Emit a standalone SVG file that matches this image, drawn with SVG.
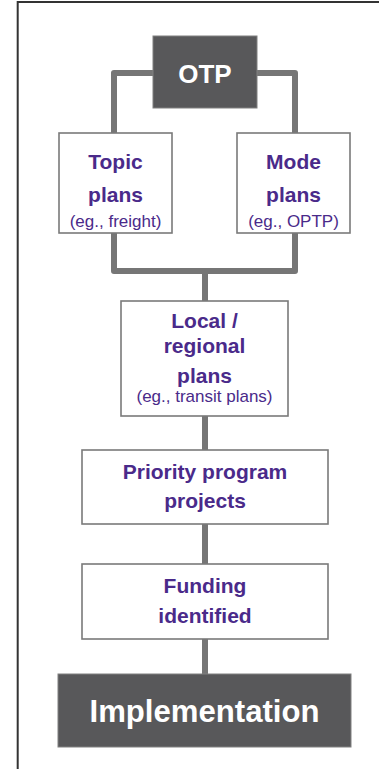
<svg xmlns="http://www.w3.org/2000/svg" width="379" height="769" viewBox="0 0 379 769">
<style>
.frame{fill:none;stroke:#333;stroke-width:2}
.conn{fill:none;stroke:#767676;stroke-width:6;stroke-linejoin:round;stroke-linecap:butt}
.box{fill:#fff;stroke:#7a7a7a;stroke-width:1.6}
.dark{fill:#58585a;stroke:#808080;stroke-width:1}
.b{font-family:"Liberation Sans",Arial,sans-serif;font-weight:bold;font-size:21px;fill:#4a2a8a;text-anchor:middle}
.s{font-family:"Liberation Sans",Arial,sans-serif;font-size:17px;fill:#4a2a8a;text-anchor:middle}
.w{font-family:"Liberation Sans",Arial,sans-serif;font-weight:bold;fill:#fff;text-anchor:middle}
</style>
<rect width="379" height="769" fill="#fff"/>
<path class="frame" d="M17.7 769 V2 H379"/>
<g id="connectors">
<path class="conn" d="M153 73 H114 V133"/>
<path class="conn" d="M257 73 H295 V133"/>
<path class="conn" d="M114 233 V271 H295 V233"/>
<path class="conn" d="M205 271 V301"/>
<path class="conn" d="M205 416 V450"/>
<path class="conn" d="M205 524 V564"/>
<path class="conn" d="M205 639 V674"/>
</g>
<g id="otp">
<rect class="dark" x="153" y="36" width="104" height="72"/>
<text class="w" x="205" y="83" font-size="26">OTP</text>
</g>
<g id="topic">
<rect class="box" x="59" y="133" width="113" height="100"/>
<text class="b" x="115.5" y="169">Topic</text>
<text class="b" x="115.5" y="202">plans</text>
<text class="s" x="115.5" y="227">(eg., freight)</text>
</g>
<g id="mode">
<rect class="box" x="237" y="133" width="113" height="100"/>
<text class="b" x="293.5" y="169">Mode</text>
<text class="b" x="293.5" y="202">plans</text>
<text class="s" x="293.5" y="227">(eg., OPTP)</text>
</g>
<g id="local">
<rect class="box" x="121" y="301" width="167" height="115"/>
<text class="b" x="204.5" y="328">Local /</text>
<text class="b" x="204.5" y="353">regional</text>
<text class="b" x="204.5" y="383">plans</text>
<text class="s" x="204.5" y="402">(eg., transit plans)</text>
</g>
<g id="priority">
<rect class="box" x="82" y="450" width="246" height="74"/>
<text class="b" x="205" y="479">Priority program</text>
<text class="b" x="205" y="508">projects</text>
</g>
<g id="funding">
<rect class="box" x="82" y="564" width="246" height="75"/>
<text class="b" x="205" y="593">Funding</text>
<text class="b" x="205" y="623">identified</text>
</g>
<g id="implementation">
<rect class="dark" x="58" y="674" width="293" height="73"/>
<text class="w" x="204.5" y="722" font-size="32" textLength="230" lengthAdjust="spacingAndGlyphs">Implementation</text>
</g>
</svg>
